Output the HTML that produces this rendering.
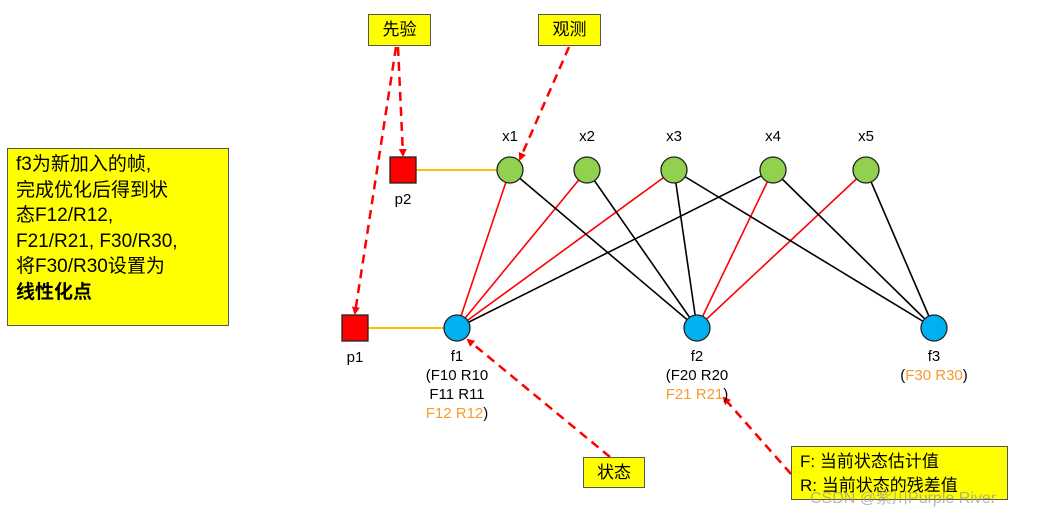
<!DOCTYPE html>
<html><head><meta charset="utf-8"><style>
body{margin:0;background:#fff;width:1041px;height:516px;overflow:hidden;position:relative;font-family:"Liberation Sans","Noto Sans CJK SC",sans-serif;}
.b{position:absolute;background:#ffff00;border:1.5px solid #555;box-sizing:border-box;color:#000;}
</style></head><body>
<svg width="1041" height="516" style="position:absolute;left:0;top:0" font-family="Liberation Sans, Noto Sans CJK SC, sans-serif">
<defs><marker id="a" markerWidth="8" markerHeight="8" refX="6" refY="4" orient="auto" markerUnits="userSpaceOnUse"><path d="M0,0 L8,4 L0,8z" fill="#f00"/></marker></defs>
<line x1="416" y1="170" x2="497" y2="170" stroke="#ffc000" stroke-width="2"/>
<line x1="368" y1="328" x2="444" y2="328" stroke="#ffc000" stroke-width="2"/>
<g stroke-width="1.6">
<line x1="457" y1="328" x2="510" y2="170" stroke="#f00"/>
<line x1="457" y1="328" x2="587" y2="170" stroke="#f00"/>
<line x1="457" y1="328" x2="674" y2="170" stroke="#f00"/>
<line x1="457" y1="328" x2="773" y2="170" stroke="#000"/>
<line x1="697" y1="328" x2="510" y2="170" stroke="#000"/>
<line x1="697" y1="328" x2="587" y2="170" stroke="#000"/>
<line x1="697" y1="328" x2="674" y2="170" stroke="#000"/>
<line x1="697" y1="328" x2="773" y2="170" stroke="#f00"/>
<line x1="697" y1="328" x2="866" y2="170" stroke="#f00"/>
<line x1="934" y1="328" x2="674" y2="170" stroke="#000"/>
<line x1="934" y1="328" x2="773" y2="170" stroke="#000"/>
<line x1="934" y1="328" x2="866" y2="170" stroke="#000"/>
</g>
<g fill="#92d050" stroke="#222" stroke-width="1.3">
<circle cx="510" cy="170" r="13"/><circle cx="587" cy="170" r="13"/><circle cx="674" cy="170" r="13"/><circle cx="773" cy="170" r="13"/><circle cx="866" cy="170" r="13"/>
</g>
<g fill="#00b0f0" stroke="#222" stroke-width="1.3">
<circle cx="457" cy="328" r="13"/><circle cx="697" cy="328" r="13"/><circle cx="934" cy="328" r="13"/>
</g>
<rect x="390" y="157" width="26" height="26" fill="#f00" stroke="#222" stroke-width="1.3"/>
<rect x="342" y="315" width="26" height="26" fill="#f00" stroke="#222" stroke-width="1.3"/>
<g stroke="#f00" stroke-width="2.5" stroke-dasharray="9,6" fill="none" marker-end="url(#a)">
<line x1="398" y1="47" x2="403" y2="155"/>
<line x1="396" y1="47" x2="355" y2="313"/>
<line x1="569" y1="47" x2="520" y2="159"/>
<line x1="610" y1="457" x2="468" y2="340"/>
<line x1="791" y1="474" x2="724" y2="398"/>
</g>
<g font-size="15" text-anchor="middle" fill="#000">
<text x="510" y="141">x1</text><text x="587" y="141">x2</text><text x="674" y="141">x3</text><text x="773" y="141">x4</text><text x="866" y="141">x5</text>
<text x="403" y="204">p2</text><text x="355" y="362">p1</text>
<text x="457" y="361">f1</text>
<text x="457" y="380">(F10 R10</text>
<text x="457" y="399">F11 R11</text>
<text x="457" y="418"><tspan fill="#f79b2f">F12 R12</tspan>)</text>
<text x="697" y="361">f2</text>
<text x="697" y="380">(F20 R20</text>
<text x="697" y="399"><tspan fill="#f79b2f">F21 R21</tspan>)</text>
<text x="934" y="361">f3</text>
<text x="934" y="380">(<tspan fill="#f79b2f">F30 R30</tspan>)</text>
</g>
</svg>
<div class="b" style="left:368px;top:14px;width:63px;height:32px;font-size:17px;line-height:30px;text-align:center">先验</div>
<div class="b" style="left:538px;top:14px;width:63px;height:32px;font-size:17px;line-height:30px;text-align:center">观测</div>
<div class="b" style="left:583px;top:457px;width:62px;height:31px;font-size:17px;line-height:29px;text-align:center">状态</div>
<div class="b" style="left:7px;top:148px;width:222px;height:178px;font-size:19px;line-height:25.5px;padding:3px 0 0 8px">f3为新加入的帧,<br>完成优化后得到状<br>态F12/R12,<br>F21/R21, F30/R30,<br>将F30/R30设置为<br><b>线性化点</b></div>
<div class="b" style="left:791px;top:446px;width:217px;height:54px;font-size:17px;line-height:24px;padding:3px 0 0 8px">F:&nbsp;当前状态估计值<br>R:&nbsp;当前状态的残差值</div>
<div style="position:absolute;left:810px;top:484px;font-size:16px;color:rgba(150,150,150,0.7)">CSDN @紫川Purple River</div>
</body></html>
